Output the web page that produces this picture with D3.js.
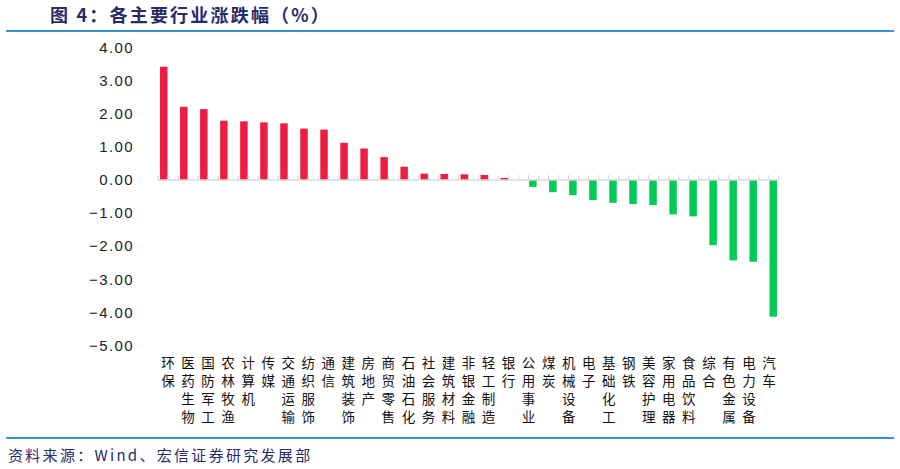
<!DOCTYPE html>
<html>
<head>
<meta charset="utf-8">
<script src="https://cdn.jsdelivr.net/npm/d3@7"></script>
<style>
  body { margin: 0; background: #fff; }
  svg { display: block; }
</style>
</head>
<body>
<svg id="chart" width="900" height="469"></svg>
<script>
let categories = ["环保", "医药生物", "国防军工", "农林牧渔", "计算机", "传媒", "交通运输",
  "纺织服饰", "通信", "建筑装饰", "房地产", "商贸零售", "石油石化", "社会服务", "建筑材料",
  "非银金融", "轻工制造", "银行", "公用事业", "煤炭", "机械设备", "电子", "基础化工", "钢铁",
  "美容护理", "家用电器", "食品饮料", "综合", "有色金属", "电力设备", "汽车"];
let values = [3.42, 2.21, 2.14, 1.79, 1.77, 1.74, 1.71, 1.55, 1.52, 1.12, 0.95, 0.69, 0.40,
  0.19, 0.18, 0.17, 0.15, 0.06, -0.21, -0.37, -0.46, -0.61, -0.69, -0.73, -0.76, -1.04,
  -1.10, -1.97, -2.43, -2.47, -4.13];
let yTicks = [4, 3, 2, 1, 0, -1, -2, -3, -4, -5];
let seriesNames = ["涨", "跌"];

let svg = d3.select("#chart");
let navy = "#262b6c";
let blue = "#3a92d2";

let x = d3.scaleBand().domain(categories).range([158, 779]);
// two series per category, red slot left and green slot right
let xs = d3.scaleBand().domain(seriesNames).range([0, x.bandwidth()])
  .paddingInner(0.12).paddingOuter(0.24);
let y = d3.scaleLinear().domain([-5, 4]).range([345.5, 47.5]);
let y0 = y(0);

// title + rules
svg.append("text")
  .text("图 4：各主要行业涨跌幅（%）")
  .attr("x", 50)
  .attr("y", 22)
  .attr("fill", navy)
  .style("font-family", "'Noto Sans CJK SC'")
  .style("font-weight", "bold")
  .style("font-size", "18px")
  .style("letter-spacing", "2.2px");

svg.selectAll("line.rule")
  .data([31, 438])
  .enter()
  .append("line")
  .attr("class", "rule")
  .attr("x1", 6)
  .attr("x2", 894)
  .attr("y1", d => d)
  .attr("y2", d => d)
  .attr("stroke", blue)
  .attr("stroke-width", 2);

svg.append("text")
  .text("资料来源：Wind、宏信证券研究发展部")
  .attr("x", 8)
  .attr("y", 461)
  .attr("fill", navy)
  .style("font-family", "'Noto Sans CJK SC'")
  .style("font-size", "15px")
  .style("letter-spacing", "2.3px");

// y axis labels, no line
let yAxis = svg.append("g")
  .attr("transform", "translate(138,0)")
  .call(d3.axisLeft(y).tickValues(yTicks).tickSize(0).tickPadding(4)
    .tickFormat(d => d3.format(".2f")(d).replace("-", "−")));
yAxis.select(".domain").remove();
yAxis.selectAll("text")
  .attr("fill", "#222")
  .style("font-family", "'Liberation Sans'")
  .style("font-size", "15px")
  .style("letter-spacing", "1.4px");

// bars
svg.append("g")
  .selectAll("rect")
  .data(values)
  .enter()
  .append("rect")
  .attr("x", (d, i) => x(categories[i]) + xs(d >= 0 ? seriesNames[0] : seriesNames[1]))
  .attr("width", xs.bandwidth())
  .attr("y", d => Math.min(y(d), y0))
  .attr("height", d => Math.abs(y(d) - y0))
  .attr("fill", d => d >= 0 ? "#ee1c3e" : "#00cc55");

// category axis at zero
let ax = svg.append("g");
ax.append("line")
  .attr("x1", x.range()[0])
  .attr("x2", x.range()[1])
  .attr("y1", y0)
  .attr("y2", y0)
  .attr("stroke", "#d9d9d9")
  .attr("stroke-width", 1.5);

let tickXs = d3.range(categories.length * 2 + 1).map(k => x.range()[0] + k * x.step() / 2);
ax.selectAll("line.tick")
  .data(tickXs)
  .enter()
  .append("line")
  .attr("class", "tick")
  .attr("x1", d => d)
  .attr("x2", d => d)
  .attr("y1", y0)
  .attr("y2", y0 - 5)
  .attr("stroke", "#d9d9d9")
  .attr("stroke-width", 1);

// vertical category labels, written top to bottom
svg.append("g")
  .selectAll("text")
  .data(categories)
  .enter()
  .append("text")
  .attr("x", c => x(c) + x.bandwidth() / 2)
  .attr("y", 356)
  .attr("fill", "#111")
  .style("writing-mode", "vertical-rl")
  .style("text-orientation", "upright")
  .style("font-family", "'Noto Sans CJK SC'")
  .style("font-size", "13.5px")
  .style("letter-spacing", "4.5px")
  .text(c => c);
</script>
</body>
</html>
